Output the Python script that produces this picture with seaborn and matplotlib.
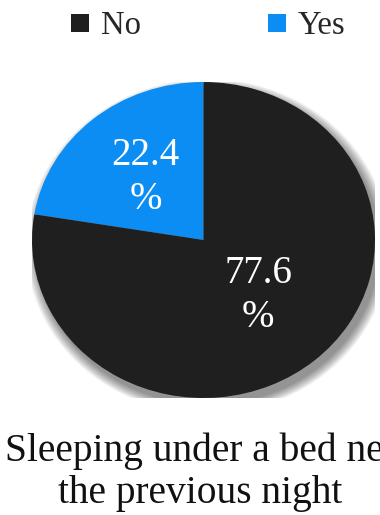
import matplotlib
matplotlib.use("Agg")
import matplotlib.pyplot as plt
import matplotlib.transforms as mtransforms
from matplotlib.lines import Line2D
from matplotlib.patches import Circle
import seaborn as sns

# Survey answers: slept under a bed net the previous night
categories = ["Yes", "No"]
shares = [22.4, 77.6]
colors = ["#0b8df4", "#1f1f1f"]
legend_order = ["No", "Yes"]
caption = "Sleeping under a bed net\nthe previous night"

sns.set_theme(style="white")
plt.rcParams["font.family"] = ["Liberation Serif", "DejaVu Serif"]

fig = plt.figure(figsize=(3.8, 5.15), dpi=100)
fig.patch.set_facecolor("white")

W, H = 380, 515
left, right, top, bottom = 32, 375, 82, 398
ax = fig.add_axes([left / W, 1 - bottom / H, (right - left) / W, (bottom - top) / H])
ax.axis("off")

# soft drop shadow toward the lower right
for k in range(16):
    ax.add_patch(Circle((0.025, -0.04), 1.0 + 0.004 * k, facecolor="black",
                        edgecolor="none", alpha=0.03, zorder=0))

wedges, texts, autotexts = ax.pie(
    shares,
    colors=colors,
    startangle=90,
    counterclock=True,
    radius=1.0,
    autopct=lambda p: f"{p:.1f}\n%",
    pctdistance=0.52,
    wedgeprops=dict(linewidth=0),
    textprops=dict(color="white", fontsize=28, linespacing=1.25),
    frame=False,
)
ax.set_xlim(-1, 1)
ax.set_ylim(-1, 1)
ax.set_aspect("auto")
for w in wedges:
    w.set_zorder(2)
for t in autotexts:
    t.set_zorder(3)
# lift the large-slice label a little toward the centre
autotexts[1].set_transform(mtransforms.offset_copy(ax.transData, fig=fig, x=-3, y=7, units="dots"))

handles = [Line2D([], [], marker="s", linestyle="none", markersize=13.5,
                  markerfacecolor=colors[categories.index(c)], markeredgewidth=0)
           for c in legend_order]
fig.legend(handles, legend_order, loc="upper center", bbox_to_anchor=(0.545, 1.004),
           ncol=2, frameon=False, fontsize=23.5, handlelength=0.7,
           handletextpad=0.3, columnspacing=3.8, borderaxespad=0.0)

fig.text(0.526, 1 - 432 / H, caption, ha="center", va="top",
         fontsize=28.4, linespacing=1.18, color="#111111")

fig.savefig("out.png", dpi=100, facecolor="white")
